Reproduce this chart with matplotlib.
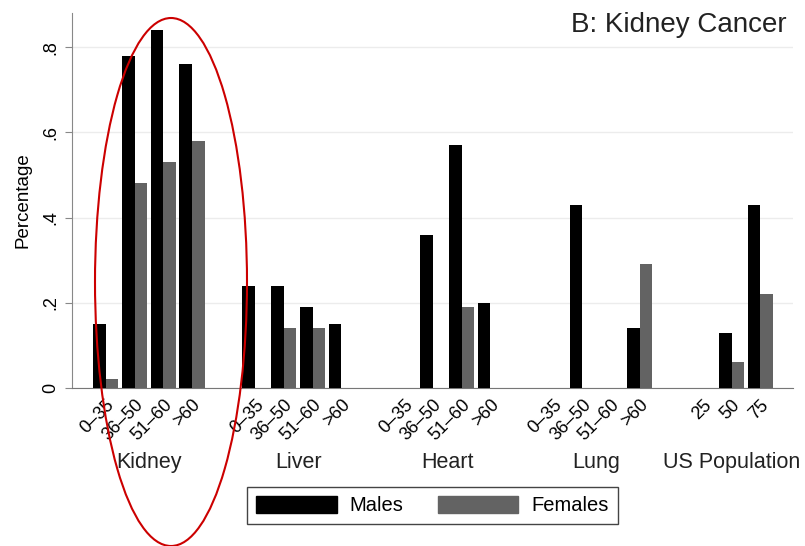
import matplotlib
matplotlib.use("Agg")
import matplotlib.pyplot as plt
from matplotlib.patches import Patch, Ellipse
import numpy as np

plt.rcParams['font.family'] = ['Liberation Sans', 'DejaVu Sans']

organs = ["Kidney", "Liver", "Heart", "Lung", "US Population"]
age_labels = ["0–35", "36–50", "51–60", ">60"]
us_age_labels = ["25", "50", "75"]

males_kidney = [0.15, 0.78, 0.84, 0.76]
males_liver = [0.24, 0.24, 0.19, 0.15]
males_heart = [0.0, 0.36, 0.57, 0.20]
males_lung = [0.0, 0.43, 0.0, 0.14]
males_us = [0.0, 0.13, 0.43]

females_kidney = [0.02, 0.48, 0.53, 0.58]
females_liver = [0.0, 0.14, 0.14, 0.0]
females_heart = [0.0, 0.0, 0.19, 0.0]
females_lung = [0.0, 0.0, 0.0, 0.29]
females_us = [0.0, 0.06, 0.22]

males = [males_kidney, males_liver, males_heart, males_lung, males_us]
females = [females_kidney, females_liver, females_heart, females_lung, females_us]
tick_sets = [age_labels, age_labels, age_labels, age_labels, us_age_labels]

male_color = "#000000"
female_color = "#636363"

fig = plt.figure(figsize=(8.05, 5.46), dpi=100)
ax = fig.add_axes([72/805, 1-388/546, (793-72)/805, (388-13)/546])

gap = 1.2
w = 0.44
start = 0.0
all_pos, all_labels = [], []
group_centers = []
for m, f, labs in zip(males, females, tick_sets):
    pos = start + np.arange(len(labs))
    ax.bar(pos - w/2, m, width=w, color=male_color, zorder=3)
    ax.bar(pos + w/2, f, width=w, color=female_color, zorder=3)
    all_pos.extend(pos)
    all_labels.extend(labs)
    group_centers.append(pos.mean())
    start = pos[-1] + 1 + gap

ax.set_xlim(-1.18, all_pos[-1] + 1.14)
ax.set_ylim(0, 0.88)
ax.set_yticks([0, 0.2, 0.4, 0.6, 0.8])
ax.set_yticklabels(["0", ".2", ".4", ".6", ".8"], rotation=90, va='center', fontsize=13)
ax.tick_params(axis='y', length=5, color='#888888', pad=4)
ax.set_xticks(all_pos)
ax.set_xticklabels(all_labels, rotation=45, ha='right', rotation_mode='anchor', fontsize=13)
ax.tick_params(axis='x', length=0, pad=6)
ax.grid(axis='y', color='#ececec', linewidth=1.0, zorder=0)
for s in ['top', 'right']:
    ax.spines[s].set_visible(False)
ax.spines['left'].set_color('#888888')
ax.spines['bottom'].set_color('#777777')
ax.set_ylabel("Percentage", fontsize=13.5, labelpad=8)

trans = matplotlib.transforms.blended_transform_factory(ax.transData, fig.transFigure)
for name, c in zip(organs, group_centers):
    ax.text(c, 1-468/546, name, transform=trans, ha='center', va='baseline', fontsize=15.5, color='#222222')

fig.text(787/805, 1-25/546, "B: Kidney Cancer", ha='right', va='center', fontsize=20, color='#222222')

handles = [Patch(facecolor=male_color, edgecolor=male_color), Patch(facecolor=female_color, edgecolor=female_color)]
leg = fig.legend(handles, ["Males", "Females"], ncol=2, loc='center', bbox_to_anchor=(432.5/805, 1-505.5/546),
                 fontsize=14.5, handlelength=4.0, handleheight=0.9, handletextpad=0.65, columnspacing=1.7,
                 fancybox=False, edgecolor='#444444', framealpha=1, borderpad=0.45)
leg.get_frame().set_linewidth(1.0)

ell = Ellipse((171/805, 1-282/546), 152/805, 528/546, transform=fig.transFigure, fill=False,
              edgecolor='#cc0000', linewidth=1.5, clip_on=False)
fig.patches.append(ell)

fig.savefig("out.png", dpi=100)
